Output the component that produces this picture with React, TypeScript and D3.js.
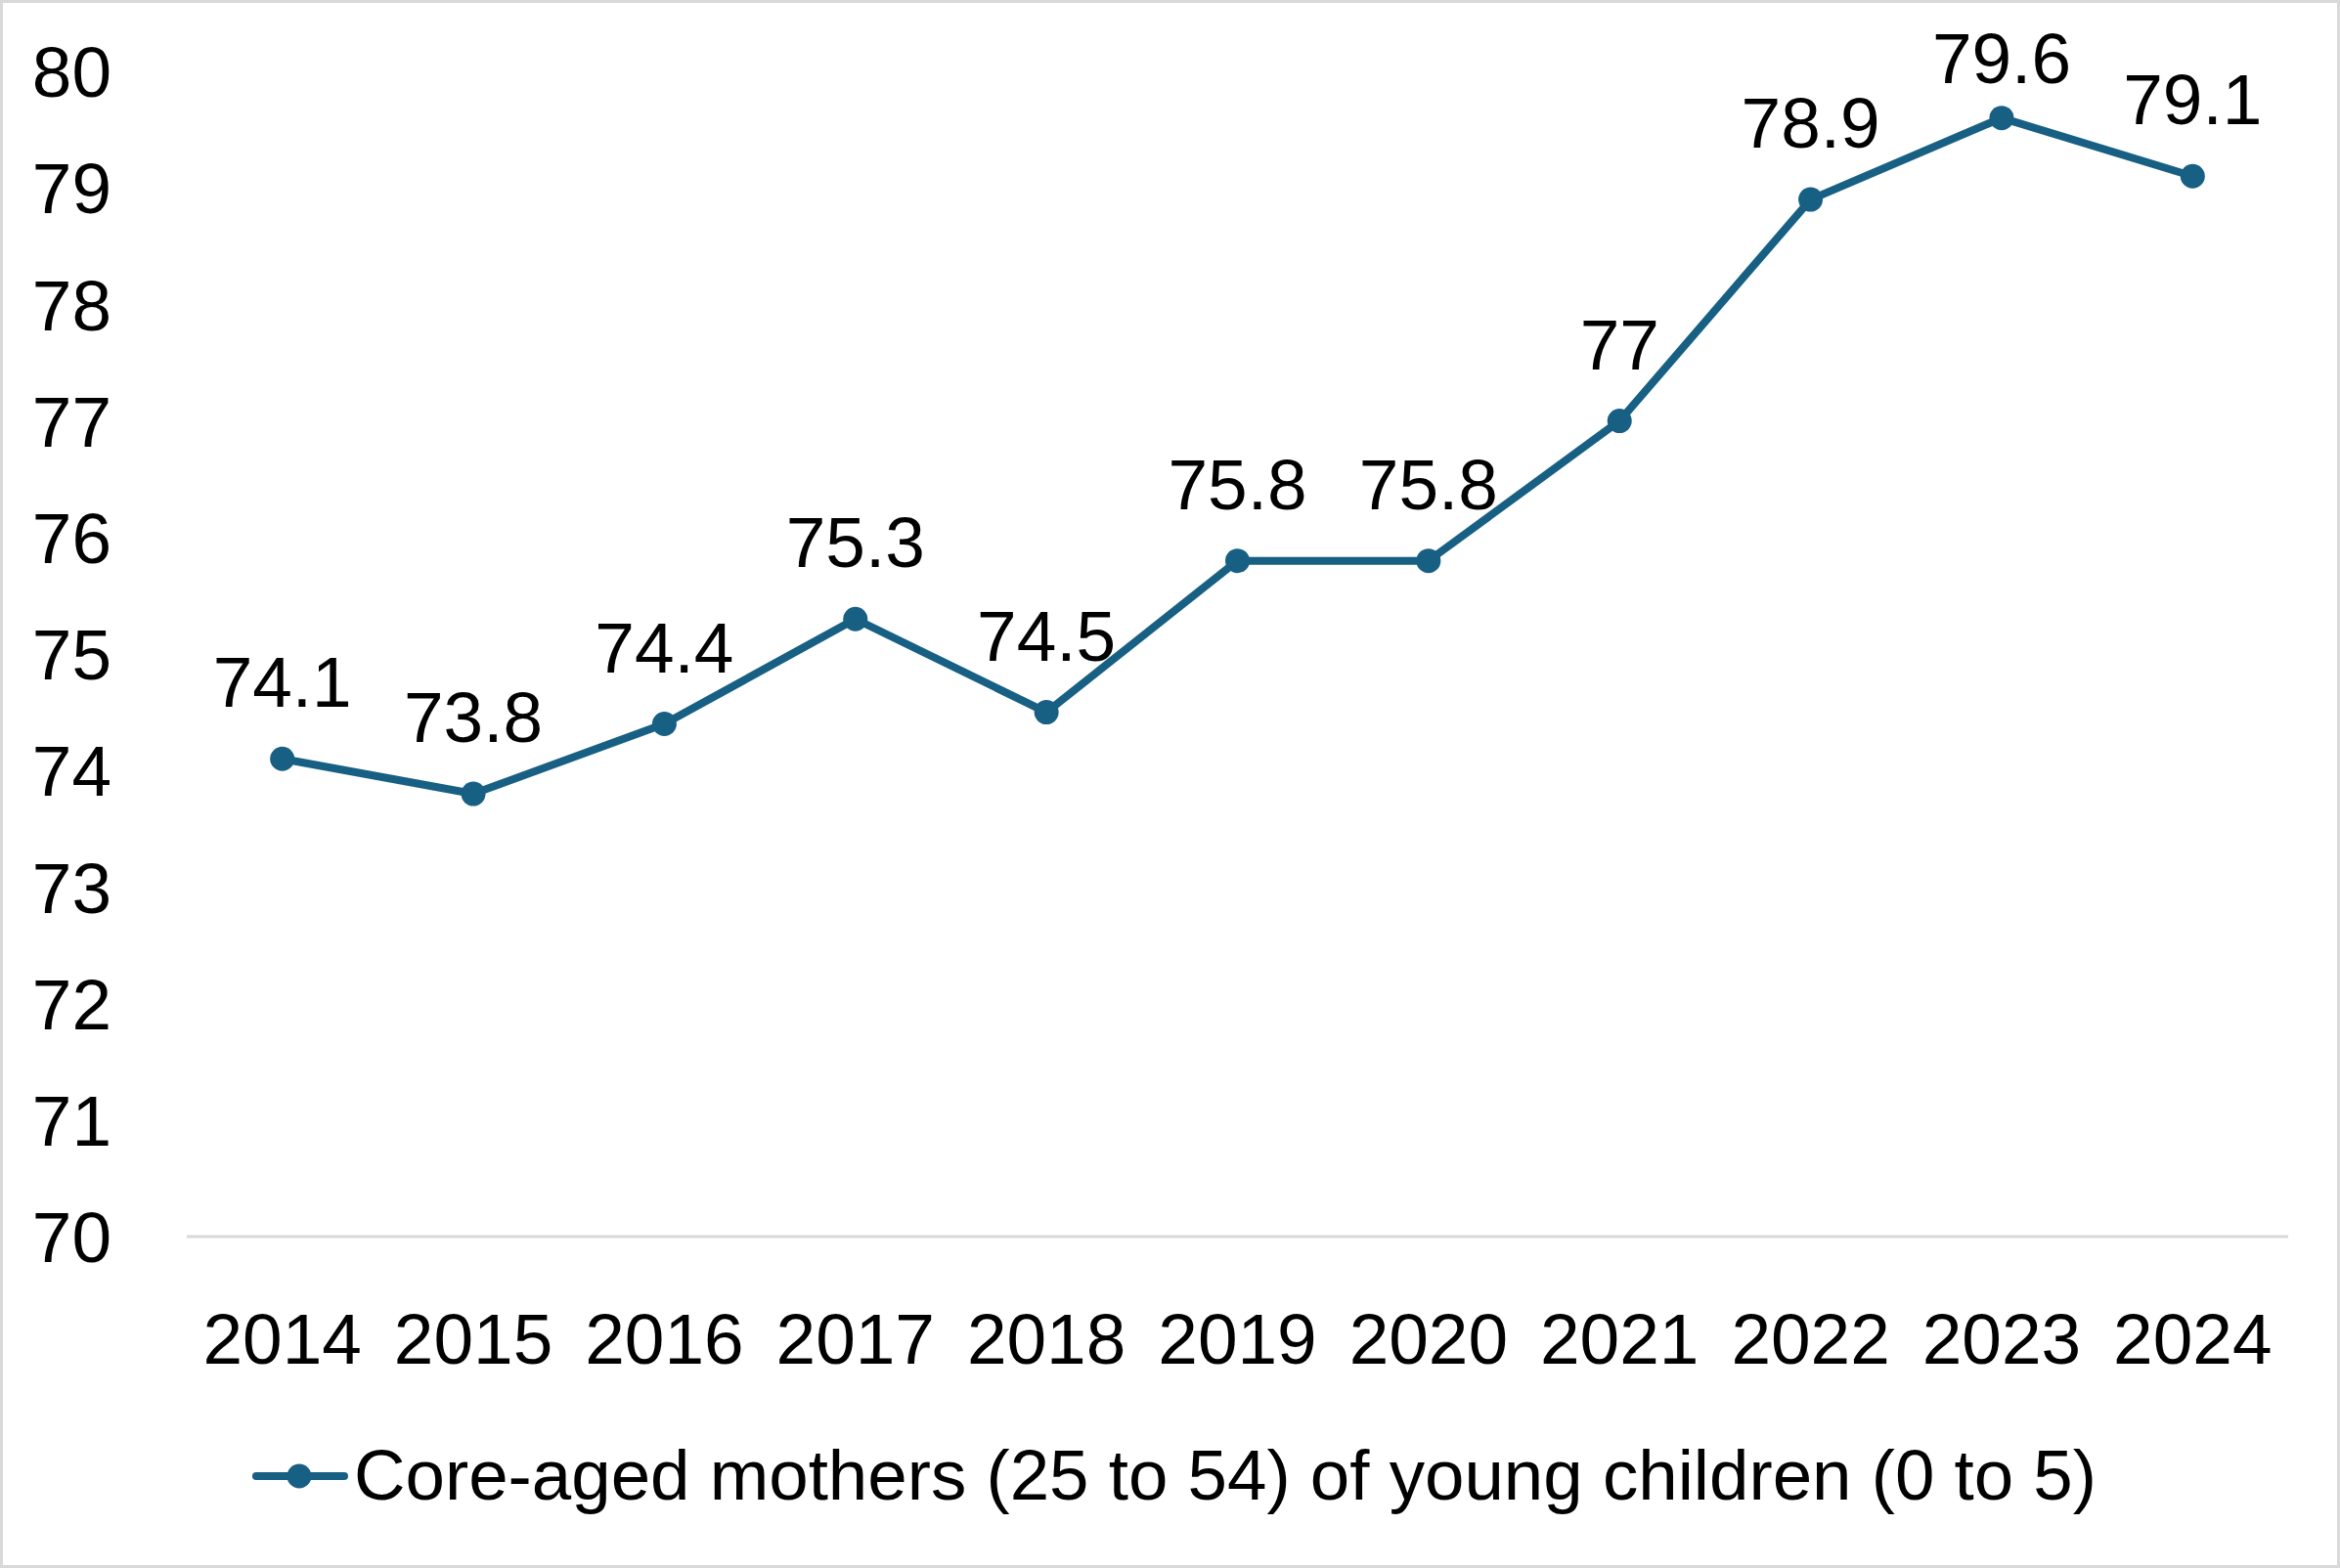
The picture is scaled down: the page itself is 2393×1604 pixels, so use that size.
import React, { useEffect } from "react";
import * as d3 from "d3";

const years = ["2014", "2015", "2016", "2017", "2018", "2019", "2020", "2021", "2022", "2023", "2024"];
const rates = [74.1, 73.8, 74.4, 75.3, 74.5, 75.8, 75.8, 77, 78.9, 79.6, 79.1];
const yTicks = [70, 71, 72, 73, 74, 75, 76, 77, 78, 79, 80];
const seriesName = "Core-aged mothers (25 to 54) of young children (0 to 5)";

const W = 2393;
const H = 1604;
const COLOR = "#176084";
const FONT = "'Liberation Sans', Arial, sans-serif";
const FS = 73;

const App: React.FC = () => {
    useEffect(() => {
        document.body.style.margin = "0";
    }, []);

    const x = d3.scaleBand<string>().domain(years).range([191, 2340]);
    const y = d3.scaleLinear().domain([70, 80]).range([1265, 73]);
    const cx = (d: string) => x(d)! + x.bandwidth() / 2;

    const line = d3
        .line<number>()
        .x((_, i) => cx(years[i]))
        .y(d => y(d));

    return (
        <svg width={W} height={H} style={{ display: "block" }} fontFamily={FONT}>
            <rect x={1.5} y={1.5} width={W - 3} height={H - 3} fill="#fff" stroke="#d9d9d9" strokeWidth={3} />

            {/* y axis labels */}
            {yTicks.map(t => (
                <text key={t} x={114} y={y(t)} dy="0.36em" textAnchor="end" fontSize={FS} fill="#000">
                    {t}
                </text>
            ))}

            {/* baseline */}
            <line x1={191} x2={2340} y1={y(70)} y2={y(70)} stroke="#d9d9d9" strokeWidth={3} />

            {/* x axis labels */}
            {years.map(yr => (
                <text key={yr} x={cx(yr)} y={1395} textAnchor="middle" fontSize={FS} fill="#000">
                    {yr}
                </text>
            ))}

            <path d={line(rates)!} fill="none" stroke={COLOR} strokeWidth={8} strokeLinejoin="round" />
            {rates.map((v, i) => (
                <circle key={i} cx={cx(years[i])} cy={y(v)} r={12.5} fill={COLOR} />
            ))}

            {/* data labels, kept inside the top of the chart */}
            {rates.map((v, i) => (
                <text
                    key={i}
                    x={cx(years[i])}
                    y={Math.max(y(v) - 53, 85)}
                    textAnchor="middle"
                    fontSize={FS}
                    fill="#000"
                >
                    {v}
                </text>
            ))}

            {/* legend */}
            <line x1={262} x2={352} y1={1510} y2={1510} stroke={COLOR} strokeWidth={8} strokeLinecap="round" />
            <circle cx={306} cy={1510} r={12.5} fill={COLOR} />
            <text
                x={362}
                y={1508}
                dy="0.36em"
                fontSize={73}
                fill="#000"
                textLength={1782}
                lengthAdjust="spacingAndGlyphs"
            >
                {seriesName}
            </text>
        </svg>
    );
};

export default App;
